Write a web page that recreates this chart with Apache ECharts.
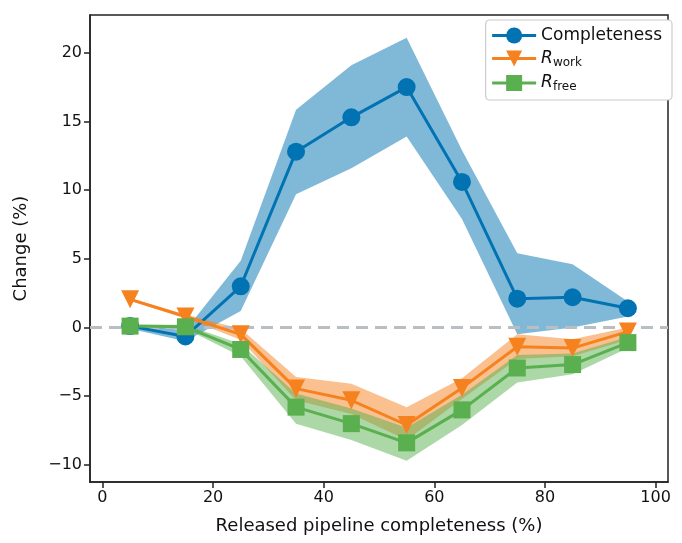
<!DOCTYPE html>
<html><head><meta charset="utf-8">
<script src="https://cdn.jsdelivr.net/npm/echarts@6/dist/echarts.min.js"></script>
<style>html,body{margin:0;padding:0;background:#fff}#c{width:682px;height:543px}</style>
</head><body><div id="c"></div>
<script>
const xValues = [5, 15, 25, 35, 45, 55, 65, 75, 85, 95];
const completeness      = [0.1, -0.65, 3.0, 12.8, 15.3, 17.5, 10.6, 2.1, 2.2, 1.4];
const completenessUpper = [0.2, -0.2, 4.85, 15.85, 19.1, 21.1, 12.9, 5.4, 4.6, 1.9];
const completenessLower = [-0.1, -1.0, 1.2, 9.7, 11.6, 13.9, 7.9, -0.5, 0.0, 0.8];
const rWork      = [2.05, 0.8, -0.5, -4.45, -5.3, -7.1, -4.4, -1.4, -1.5, -0.3];
const rWorkUpper = [2.15, 0.95, -0.1, -3.6, -4.1, -5.8, -3.7, -0.5, -0.85, 0.0];
const rWorkLower = [1.95, 0.65, -0.9, -5.3, -6.3, -8.2, -5.2, -2.3, -2.1, -0.9];
const rFree      = [0.1, 0.05, -1.6, -5.8, -7.0, -8.4, -6.0, -2.95, -2.7, -1.1];
const rFreeUpper = [0.2, 0.2, -1.2, -4.8, -5.9, -7.3, -4.9, -2.0, -1.9, -0.7];
const rFreeLower = [-0.1, -0.1, -2.1, -7.0, -8.2, -9.7, -7.1, -4.0, -3.4, -1.5];
const xTicks = [0, 20, 40, 60, 80, 100];
const yTicks = [-10, -5, 0, 5, 10, 15, 20];
const seriesNames = ['Completeness', 'Rwork', 'Rfree'];

const FONT = 'DejaVu Sans';
const C_BLUE = '#0173b2', C_ORANGE = '#f5821f', C_GREEN = '#5aaf4f';

function pairs(v) { return xValues.map((x, i) => [x, v[i]]); }
function band(lower, upper, color, id) {
  const rows = xValues.map((x, i) => [x, lower[i], upper[i]]);
  return {
    type: 'custom', name: id, silent: true, z: 2, data: rows,
    encode: { x: 0, y: [1, 2] },
    renderItem: function (params, api) {
      if (params.dataIndex !== 0) return null;
      const top = rows.map(r => api.coord([r[0], r[2]]));
      const bot = rows.map(r => api.coord([r[0], r[1]])).reverse();
      return { type: 'polygon', shape: { points: top.concat(bot) }, style: { fill: color } };
    }
  };
}
function mainLine(name, vals, color, symbol, size, rot) {
  return { type: 'line', name: name, data: pairs(vals), color: color, symbol: symbol, symbolSize: size,
    symbolRotate: rot || 0, showAllSymbol: true,
    lineStyle: { color: color, width: 3 }, itemStyle: { color: color, opacity: 1 }, z: 5 };
}
function minusFmt(v) { return String(v).replace('-', '\u2212'); }

const chart = echarts.init(document.getElementById('c'), null, { renderer: 'canvas' });
const option = {
  animation: false,
  backgroundColor: '#fff',
  textStyle: { fontFamily: FONT },
  grid: { left: 90, right: 14, top: 15, bottom: 61, show: true, borderColor: '#222', borderWidth: 1.5 },
  xAxis: {
    type: 'value', min: -2.25, max: 102.25,
    name: 'Released pipeline completeness (%)', nameLocation: 'middle', nameGap: 35,
    nameTextStyle: { fontFamily: FONT, fontSize: 18, color: '#111' },
    axisLine: { show: true, onZero: false, lineStyle: { color: '#222', width: 1.5 } },
    axisTick: { show: true, length: 6, inside: false, customValues: xTicks, lineStyle: { color: '#222', width: 1.5 } },
    axisLabel: { customValues: xTicks, fontFamily: FONT, fontSize: 16, color: '#111', margin: 8, formatter: minusFmt },
    splitLine: { show: false }
  },
  yAxis: {
    type: 'value', min: -11.25, max: 22.75,
    name: 'Change (%)', nameLocation: 'middle', nameGap: 60, nameRotate: 90,
    nameTextStyle: { fontFamily: FONT, fontSize: 18, color: '#111' },
    axisLine: { show: true, onZero: false, lineStyle: { color: '#222', width: 1.5 } },
    axisTick: { show: true, length: 6, inside: false, customValues: yTicks, lineStyle: { color: '#222', width: 1.5 } },
    axisLabel: { customValues: yTicks, fontFamily: FONT, fontSize: 16, color: '#111', margin: 8, formatter: minusFmt },
    splitLine: { show: false }
  },
  legend: {
    data: seriesNames, orient: 'vertical', right: 10, top: 20,
    backgroundColor: '#fff', borderColor: '#cccccc', borderWidth: 1.2, borderRadius: 4,
    padding: [7, 10, 7, 5], itemGap: 6, itemWidth: 44, itemHeight: 20,
    lineStyle: { width: 3 },
    textStyle: { fontFamily: FONT, fontSize: 17, color: '#111',
      rich: { i: { fontFamily: FONT, fontSize: 17, fontStyle: 'italic', color: '#111' },
              s: { fontFamily: FONT, fontSize: 12, color: '#111', padding: [8, 0, 0, 0] } } },
    formatter: function (n) {
      if (n === 'Rwork') return '{i|R}{s|work}';
      if (n === 'Rfree') return '{i|R}{s|free}';
      return n;
    }
  },
  series: [
    band(completenessLower, completenessUpper, 'rgba(1,115,178,0.5)', 'bc'),
    band(rWorkLower, rWorkUpper, 'rgba(245,130,31,0.5)', 'bw'),
    band(rFreeLower, rFreeUpper, 'rgba(90,175,79,0.5)', 'bf'),
    {
      type: 'line', name: 'zero', data: [], silent: true, z: 3,
      markLine: { silent: true, symbol: 'none', label: { show: false },
        lineStyle: { color: '#b9bec3', width: 3, type: [12, 7] }, data: [{ yAxis: 0 }] }
    },
    mainLine('Completeness', completeness, C_BLUE, 'circle', 18),
    mainLine('Rwork', rWork, C_ORANGE, 'triangle', 18, 180),
    mainLine('Rfree', rFree, C_GREEN, 'rect', 17)
  ]
};
chart.setOption(option);
</script>
</body></html>
